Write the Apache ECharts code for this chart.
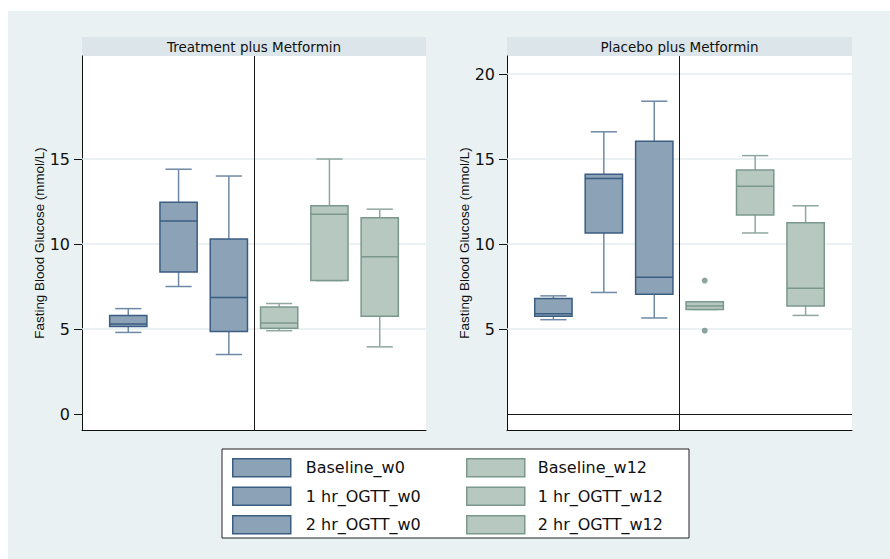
<!DOCTYPE html>
<html lang="en">
<head>
  <meta charset="UTF-8">
  <title>Fasting Blood Glucose</title>
  <script src="https://cdn.jsdelivr.net/npm/echarts@6/dist/echarts.min.js"></script>
  <style>
    html, body { margin: 0; padding: 0; background: #fff; }
    #main { width: 890px; height: 559px; }
  </style>
</head>
<body>
  <div id="main"></div>
  <script type="text/javascript">
    var groups = ['Baseline_w0', '1 hr_OGTT_w0', '2 hr_OGTT_w0', 'Baseline_w12', '1 hr_OGTT_w12', '2 hr_OGTT_w12'];
    var panels = ['Treatment plus Metformin', 'Placebo plus Metformin'];

    // [min, q1, median, q3, max] per group
    var treatBoxes = [
      [4.8, 5.15, 5.3, 5.8, 6.2],
      [7.5, 8.35, 11.35, 12.45, 14.4],
      [3.5, 4.85, 6.85, 10.3, 14.0],
      [4.9, 5.05, 5.35, 6.3, 6.5],
      [7.85, 7.85, 11.75, 12.25, 15.0],
      [3.95, 5.75, 9.25, 11.55, 12.05]
    ];
    var placeboBoxes = [
      [5.55, 5.75, 5.9, 6.8, 6.95],
      [7.15, 10.65, 13.85, 14.1, 16.6],
      [5.65, 7.05, 8.05, 16.05, 18.4],
      [6.15, 6.15, 6.35, 6.6, 6.6],
      [10.65, 11.7, 13.4, 14.35, 15.2],
      [5.8, 6.35, 7.4, 11.25, 12.25]
    ];
    // [group position, value]
    var placeboOutliers = [[4, 7.85], [4, 4.9]];

    var leftTicks = [0, 5, 10, 15];
    var rightTicks = [5, 10, 15, 20];
    var leftGrid = [5, 10, 15];
    var rightGrid = [5, 10, 15, 20];

    var blue = { fill: '#8ca2b7', border: '#3b5d82', whisker: '#6e89a5' };
    var green = { fill: '#b7c8c1', border: '#7b988d', whisker: '#8ea89f' };
    var font = '"DejaVu Sans", sans-serif';
    var titleFont = '"Liberation Sans", Arial, sans-serif';

    function boxSeries(panel, idx, box) {
      var c = idx < 3 ? blue : green;
      return {
        name: groups[idx],
        type: 'custom',
        xAxisIndex: panel,
        yAxisIndex: panel,
        z: 3,
        itemStyle: { color: c.fill, borderColor: c.border },
        encode: { x: 0, y: [1, 2, 3, 4, 5] },
        data: [[idx + 1].concat(box)],
        renderItem: function (params, api) {
          var x = api.value(0);
          var p = [1, 2, 3, 4, 5].map(function (i) { return api.coord([x, api.value(i)]); });
          var band = api.size([1, 0])[0];
          var bw = band * 0.74, cw = band * 0.52;
          var cx = p[0][0];
          var ws = { stroke: c.whisker, lineWidth: 1.5 };
          return {
            type: 'group',
            children: [
              { type: 'line', shape: { x1: cx, y1: p[3][1], x2: cx, y2: p[4][1] }, style: ws },
              { type: 'line', shape: { x1: cx - cw / 2, y1: p[4][1], x2: cx + cw / 2, y2: p[4][1] }, style: ws },
              { type: 'line', shape: { x1: cx, y1: p[1][1], x2: cx, y2: p[0][1] }, style: ws },
              { type: 'line', shape: { x1: cx - cw / 2, y1: p[0][1], x2: cx + cw / 2, y2: p[0][1] }, style: ws },
              {
                type: 'rect',
                shape: { x: cx - bw / 2, y: p[3][1], width: bw, height: p[1][1] - p[3][1] },
                style: { fill: c.fill, stroke: c.border, lineWidth: 1.5 }
              },
              { type: 'line', shape: { x1: cx - bw / 2, y1: p[2][1], x2: cx + bw / 2, y2: p[2][1] }, style: { stroke: c.border, lineWidth: 1.5 } }
            ]
          };
        }
      };
    }

    // background helper: light gridlines plus black divider lines
    function guideSeries(panel, gridVals, dark) {
      var items = gridVals.map(function (v) {
        return { yAxis: v, lineStyle: { color: '#e4ecef', width: 1.5, type: 'solid' } };
      });
      dark.forEach(function (d) {
        d.lineStyle = { color: '#1a1a1a', width: 1, type: 'solid' };
        items.push(d);
      });
      return {
        type: 'line',
        xAxisIndex: panel,
        yAxisIndex: panel,
        z: 1,
        data: [],
        markLine: { silent: true, z: 1, symbol: 'none', label: { show: false }, data: items }
      };
    }

    var series = [];
    treatBoxes.forEach(function (b, i) { series.push(boxSeries(0, i, b)); });
    placeboBoxes.forEach(function (b, i) { series.push(boxSeries(1, i, b)); });
    series.push(guideSeries(0, leftGrid, [{ xAxis: 3.5 }]));
    series.push(guideSeries(1, rightGrid, [{ xAxis: 3.5 }, { yAxis: 0 }]));
    series.push({
      type: 'scatter',
      xAxisIndex: 1,
      yAxisIndex: 1,
      z: 3,
      symbolSize: 6,
      itemStyle: { color: '#6f8f85' },
      data: placeboOutliers
    });

    function xAxisFor(i) {
      return {
        type: 'value', gridIndex: i, min: 0.08, max: 6.92,
        axisLine: { show: true, onZero: false, lineStyle: { color: '#111', width: 1 } },
        axisTick: { show: false }, axisLabel: { show: false }, splitLine: { show: false }
      };
    }
    function yAxisFor(i, ticks) {
      return {
        type: 'value', gridIndex: i, min: -0.94, max: 21.06,
        name: 'Fasting Blood Glucose (mmol/L)',
        nameLocation: 'middle', nameRotate: 90, nameGap: 36,
        nameTextStyle: { fontSize: 13.4, color: '#111', fontFamily: titleFont },
        axisLine: { show: true, onZero: false, lineStyle: { color: '#111', width: 1 } },
        axisTick: { show: true, length: 8, customValues: ticks, lineStyle: { color: '#111' } },
        axisLabel: { margin: 12, customValues: ticks, fontSize: 16, color: '#111', fontFamily: font },
        splitLine: { show: false }
      };
    }

    function legendFor(names, c, left, gap) {
      return {
        orient: 'vertical', left: left, top: 458, padding: 0,
        icon: 'rect', itemWidth: 58, itemHeight: 18, itemGap: 9,
        textStyle: { fontSize: 16, color: '#111', fontFamily: font, padding: [0, 0, 0, gap] },
        data: names.map(function (n) {
          return { name: n, itemStyle: { color: c.fill, borderColor: c.border, borderWidth: 1.5 } };
        })
      };
    }

    function header(x, w, text) {
      return [
        { type: 'rect', silent: true, shape: { x: x, y: 37, width: w, height: 19 }, style: { fill: '#dbe5ea' } },
        {
          type: 'text', silent: true, x: x + w / 2, y: 46.5,
          style: { text: text, textAlign: 'center', textVerticalAlign: 'middle', fontSize: 13.5, fontFamily: font, fill: '#111' }
        }
      ];
    }

    var option = {
      backgroundColor: '#fff',
      animation: false,
      textStyle: { fontFamily: font },
      graphic: [
        { type: 'rect', z: -100, silent: true, shape: { x: 8, y: 11, width: 882, height: 548 }, style: { fill: '#eaf1f3' } },
        { type: 'rect', z: -50, silent: true, shape: { x: 222, y: 449, width: 467, height: 89 }, style: { fill: '#fff', stroke: '#222', lineWidth: 1 } }
      ].concat(header(82, 344, panels[0])).concat(header(507, 345, panels[1])),
      grid: [
        { left: 82, top: 56, width: 344, height: 374, show: true, backgroundColor: '#fff', borderWidth: 0 },
        { left: 507, top: 56, width: 345, height: 374, show: true, backgroundColor: '#fff', borderWidth: 0 }
      ],
      xAxis: [xAxisFor(0), xAxisFor(1)],
      yAxis: [yAxisFor(0, leftTicks), yAxisFor(1, rightTicks)],
      legend: [legendFor(groups.slice(0, 3), blue, 232, 10), legendFor(groups.slice(3), green, 466, 8)],
      series: series
    };

    var myChart = echarts.init(document.getElementById('main'), null, { renderer: 'svg' });
    myChart.setOption(option);
  </script>
</body>
</html>
